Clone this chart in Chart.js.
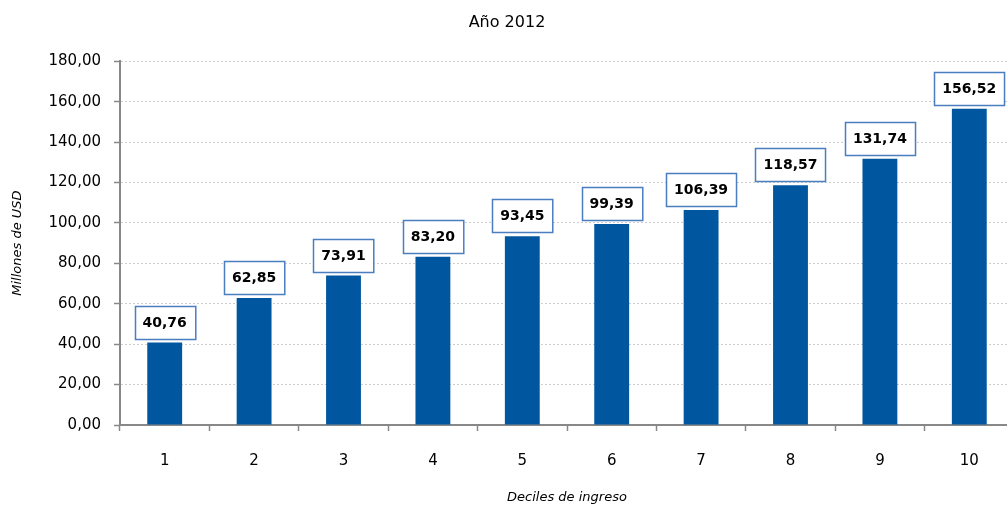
<!DOCTYPE html>
<html>
<head>
<meta charset="utf-8">
<script src="https://cdn.jsdelivr.net/npm/chart.js@4/dist/chart.umd.min.js"></script>
<style>
  html, body { margin: 0; padding: 0; background: #fff; overflow: hidden; }
  canvas { display: block; }
</style>
</head>
<body>
<canvas id="chart" width="1016" height="508"></canvas>
<script>
// Ingreso por decil, año 2012 (millones de USD)
const categories = ['1', '2', '3', '4', '5', '6', '7', '8', '9', '10'];
const values = [40.76, 62.85, 73.91, 83.20, 93.45, 99.39, 106.39, 118.57, 131.74, 156.52];
const yTicks = [0, 20, 40, 60, 80, 100, 120, 140, 160, 180];

const fmt = v => v.toFixed(2).replace('.', ',');

// Boxed value labels above each bar
const boxedLabels = {
  id: 'boxedLabels',
  afterDatasetsDraw(chart) {
    const ctx = chart.ctx;
    const meta = chart.getDatasetMeta(0);
    ctx.save();
    ctx.font = 'bold 14px "DejaVu Sans", sans-serif';
    ctx.textAlign = 'center';
    ctx.textBaseline = 'middle';
    meta.data.forEach((bar, i) => {
      const text = fmt(values[i]);
      const w = ctx.measureText(text).width + 16;
      const h = 33;
      const bottom = bar.y - 4;
      const x0 = Math.round(bar.x - w / 2) + 0.5;
      const y0 = Math.round(bottom - h) + 0.5;
      ctx.fillStyle = '#ffffff';
      ctx.fillRect(x0, y0, w, h);
      ctx.strokeStyle = '#4a7ebf';
      ctx.lineWidth = 1.5;
      ctx.strokeRect(x0, y0, w, h);
      ctx.fillStyle = '#000000';
      ctx.fillText(text, bar.x, bottom - h / 2 + 1);
    });
    ctx.restore();
  }
};

new Chart(document.getElementById('chart'), {
  type: 'bar',
  data: {
    labels: categories,
    datasets: [{
      data: values,
      backgroundColor: '#0057a0',
      borderWidth: 0,
      categoryPercentage: 1,
      barPercentage: 0.39
    }]
  },
  options: {
    responsive: false,
    animation: false,
    layout: { padding: { left: 0, right: 2, top: 0, bottom: 0 } },
    plugins: {
      legend: { display: false },
      tooltip: { enabled: false },
      title: {
        display: true,
        text: 'Año 2012',
        color: '#000',
        font: { family: '"DejaVu Sans", sans-serif', size: 16, weight: 'normal' },
        padding: { top: 13, bottom: 29 }
      }
    },
    scales: {
      x: {
        afterFit(scale) { scale.height = 83; },
        grid: {
          drawOnChartArea: false,
          drawTicks: true,
          tickLength: 6,
          tickColor: '#888888',
          tickWidth: 1.5,
          offset: true
        },
        border: { color: '#888888', width: 2 },
        ticks: {
          color: '#000',
          padding: 21,
          font: { family: '"DejaVu Sans", sans-serif', size: 15 }
        },
        title: {
          display: true,
          text: 'Deciles de ingreso',
          color: '#000',
          font: { family: '"DejaVu Sans", sans-serif', size: 13, style: 'italic' },
          padding: { top: 0, bottom: 3 }
        }
      },
      y: {
        min: 0,
        max: 180,
        afterFit(scale) { scale.width = 120; },
        afterBuildTicks(scale) { scale.ticks = yTicks.map(v => ({ value: v })); },
        grid: {
          color: '#cdcdcd',
          lineWidth: 1,
          drawTicks: true,
          tickLength: 6,
          tickColor: '#888888',
          tickWidth: 1.5,
          tickBorderDash: []
        },
        border: { color: '#888888', width: 2, dash: [2, 2] },
        ticks: {
          color: '#000',
          padding: 13,
          font: { family: '"DejaVu Sans", sans-serif', size: 15 },
          callback: v => fmt(v)
        },
        title: {
          display: true,
          text: 'Millones de USD',
          color: '#000',
          font: { family: '"DejaVu Sans", sans-serif', size: 13, style: 'italic' },
          padding: { top: 10, bottom: 0 }
        }
      }
    }
  },
  plugins: [boxedLabels]
});
</script>
</body>
</html>
